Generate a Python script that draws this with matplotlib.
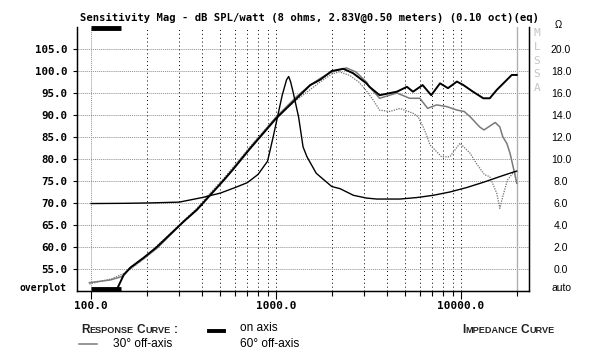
import numpy as np
import matplotlib.pyplot as plt
from matplotlib.lines import Line2D

# ---- data ----
on_f = [135, 150, 163, 193, 227, 268, 317, 374, 424, 522, 585, 725, 1000, 1295, 1530,
        1730, 2000, 2310, 2610, 3080, 3200, 3630, 4500, 5100, 5500, 6200, 6900, 7700,
        8500, 9500, 10300, 11600, 13200, 14300, 15600, 17700, 18800, 20000]
on_db = [49.5, 53.6, 55.3, 57.6, 60.0, 62.9, 65.8, 68.5, 71.0, 75.2, 77.6, 82.4, 89.2, 93.8, 96.8,
         98.0, 100.0, 100.5, 99.5, 97.2, 96.4, 94.5, 95.3, 96.4, 95.3, 96.8, 94.5, 97.2,
         96.1, 97.6, 96.8, 95.3, 93.8, 93.8, 95.7, 98.0, 99.1, 99.1]

off30_f = [98, 127, 147, 163, 193, 227, 268, 317, 374, 424, 522, 725, 1000, 1300, 1500,
           1730, 2000, 2400, 2700, 3080, 3200, 3630, 4500, 5270, 5990, 6600, 7370, 8390,
           9540, 10400, 11200, 12600, 13300, 15300, 16200, 16800, 17700, 18400, 19500, 20000]
off30_db = [51.9, 52.5, 53.3, 55.2, 57.4, 59.7, 62.7, 65.8, 68.4, 71.1, 75.2, 82.6, 89.5, 94.3, 96.5,
            98.3, 99.8, 100.7, 99.8, 97.5, 96.4, 93.8, 95.0, 93.8, 93.8, 91.5, 92.3, 91.9,
            91.1, 90.8, 89.6, 87.3, 86.6, 88.3, 87.3, 85.1, 83.5, 81.3, 76.7, 74.5]

off60_f = [98, 130, 150, 170, 200, 230, 268, 317, 374, 424, 522, 725, 1000, 1300, 1500,
           1730, 2000, 2200, 2500, 2800, 3080, 3350, 3630, 4120, 4680, 5500, 5860, 6240,
           6500, 6800, 7850, 8700, 9870, 11200, 12100, 13400, 14300, 15600, 16200, 16800,
           17800, 19000, 20000]
off60_db = [51.6, 52.8, 54.0, 55.5, 57.8, 60.5, 63.0, 66.0, 68.8, 71.5, 75.6, 82.8, 89.5, 93.5, 95.5,
            97.5, 99.3, 99.8, 99.0, 97.5, 95.5, 93.4, 91.1, 90.8, 91.5, 90.4, 89.6, 87.3,
            85.5, 83.2, 80.5, 80.5, 83.6, 81.3, 79.0, 76.4, 76.0, 72.2, 68.8, 71.4,
            75.2, 76.7, 77.0]

imp_f = [100, 150, 200, 300, 400, 500, 600, 700, 800, 900, 965, 1000, 1080, 1140, 1170,
         1200, 1240, 1325, 1400, 1470, 1650, 2000, 2220, 2620, 3080, 3500, 4680, 5800,
         7070, 8700, 10700, 13300, 16200, 19100, 20000]
imp_ohm = [5.95, 5.97, 6.0, 6.08, 6.5, 6.9, 7.4, 7.85, 8.6, 9.8, 12.0, 13.2, 15.8, 17.2, 17.5,
           17.0, 16.0, 13.8, 11.1, 10.2, 8.7, 7.5, 7.3, 6.7, 6.45, 6.36, 6.36, 6.5,
           6.7, 7.0, 7.4, 7.9, 8.4, 8.8, 8.9]

db_ticks = [55, 60, 65, 70, 75, 80, 85, 90, 95, 100, 105]
ohm_ticks = [0, 2, 4, 6, 8, 10, 12, 14, 16, 18, 20]
freq_major = [100, 1000, 10000]
freq_minor = [200, 300, 400, 500, 600, 700, 800, 900,
              2000, 3000, 4000, 5000, 6000, 7000, 8000, 9000, 20000]
overplot_f = [100, 146]

W, H = 595, 364
mono = 'DejaVu Sans Mono'
sans = 'Liberation Sans'

fig = plt.figure(figsize=(W / 100, H / 100), dpi=100)
ax = fig.add_axes([77 / W, 1 - 291 / H, 452 / W, 264 / H])
ax.set_xscale('log')
ax.set_xlim(84, 23300)
ax.set_ylim(50, 110)

# grid
for v in db_ticks:
    ax.axhline(v, color='#909090', lw=0.7, ls=(0, (1, 1)), zorder=0)
for f in freq_major[1:] + freq_minor[:-1]:
    ax.axvline(f, color='black', lw=0.7, ls=(0, (1, 3)), zorder=0)
ax.axvline(freq_major[0], color='#909090', lw=0.7, ls=(0, (1, 1)), zorder=0)
ax.axvline(freq_minor[-1], color='#b0b0b0', lw=1.0, zorder=0)

ax.plot(off60_f, off60_db, color='#707070', lw=0.9, ls=(0, (1, 1)), zorder=2)
ax.plot(off30_f, off30_db, color='#7a7a7a', lw=1.1, zorder=3)
ax.plot(on_f, on_db, color='black', lw=1.4, zorder=4)

# overplot marker bars
ax.plot(overplot_f, [50.4, 50.4], color='black', lw=3.5, solid_capstyle='butt', clip_on=False)
ax.plot(overplot_f, [109.7, 109.7], color='black', lw=3.5, solid_capstyle='butt', clip_on=False)

ax.spines['top'].set_visible(False)
for s in ['left', 'bottom', 'right']:
    ax.spines[s].set_linewidth(1.0)

ax.set_yticks(db_ticks)
ax.set_yticklabels(['%.1f' % v for v in db_ticks], fontfamily=mono, fontweight='bold', fontsize=7.8)
ax.tick_params(axis='y', length=3, pad=4, width=0.8)
ax.set_xticks(freq_major)
ax.set_xticklabels(['%.1f' % v for v in freq_major], fontfamily=mono, fontweight='bold', fontsize=8)
ax.set_xticks(freq_minor, minor=True)
ax.tick_params(axis='x', which='major', length=6, width=0.8, pad=1)
ax.tick_params(axis='x', which='minor', length=3.5, width=0.8)
ax.xaxis.set_minor_formatter(plt.NullFormatter())

# impedance on right axis
ax2 = ax.twinx()
ax2.set_ylim(-2, 22)
ax2.plot(imp_f, imp_ohm, color='black', lw=1.0, zorder=3)
ax2.spines['top'].set_visible(False)
ax2.set_yticks(ohm_ticks)
ax2.set_yticklabels(['%.1f' % v for v in ohm_ticks], fontfamily=sans, fontsize=7.5)
ax2.tick_params(axis='y', length=0, pad=23)
for lab in ax2.get_yticklabels():
    lab.set_horizontalalignment('center')


def px(x, y):
    return x / W, 1 - y / H


fig.text(*px(561, 288), 'auto', ha='center', va='center', fontfamily=sans, fontsize=7.5)
fig.text(*px(558, 25), '\u03a9', ha='center', va='center', fontfamily=sans, fontsize=7)
fig.text(*px(67, 288), 'overplot', ha='right', va='center', fontfamily=mono,
         fontweight='bold', fontsize=7)

fig.text(*px(80, 18), 'Sensitivity Mag - dB SPL/watt (8 ohms, 2.83V@0.50 meters) (0.10 oct)(eq)',
         ha='left', va='center', fontfamily=mono, fontweight='bold', fontsize=7.6)

for i, ch in enumerate('MLSSA'):
    fig.text(*px(537, 33 + 13.8 * i), ch, ha='center', va='center', fontfamily=mono,
             fontsize=8, color='#c4c4c4')

# legend-ish footer
renderer = fig.canvas.get_renderer()


def small_caps(x, y, s, big=8.6, small=6.6, **kw):
    pos = x
    words = s.split(' ')
    for wi, word in enumerate(words):
        if wi:
            pos += 3
        runs = [(word[0], big)]
        if len(word) > 1:
            runs.append((word[1:], small))
        for txt, size in runs:
            t = fig.text(*px(pos, y), txt, fontsize=size, va='baseline', ha='left', **kw)
            pos += t.get_window_extent(renderer).width


small_caps(81, 333, 'RESPONSE CURVE :', fontfamily=sans, fontweight='bold', color='#222222')
small_caps(462, 333, 'IMPEDANCE CURVE', fontfamily=sans, fontweight='bold', color='#222222')

fig.add_artist(Line2D([79 / W, 97 / W], [1 - 344 / H, 1 - 344 / H], color='#7a7a7a', lw=1.1))
fig.add_artist(Line2D([209 / W, 224 / W], [1 - 331 / H, 1 - 331 / H], color='black', lw=2.8))
fig.text(*px(113, 344), '30\u00b0 off-axis', va='center', fontfamily=sans, fontsize=8.6)
fig.text(*px(240, 328), 'on axis', va='center', fontfamily=sans, fontsize=8.6)
fig.text(*px(240, 344), '60\u00b0 off-axis', va='center', fontfamily=sans, fontsize=8.6)

fig.savefig('out.png', dpi=100)
